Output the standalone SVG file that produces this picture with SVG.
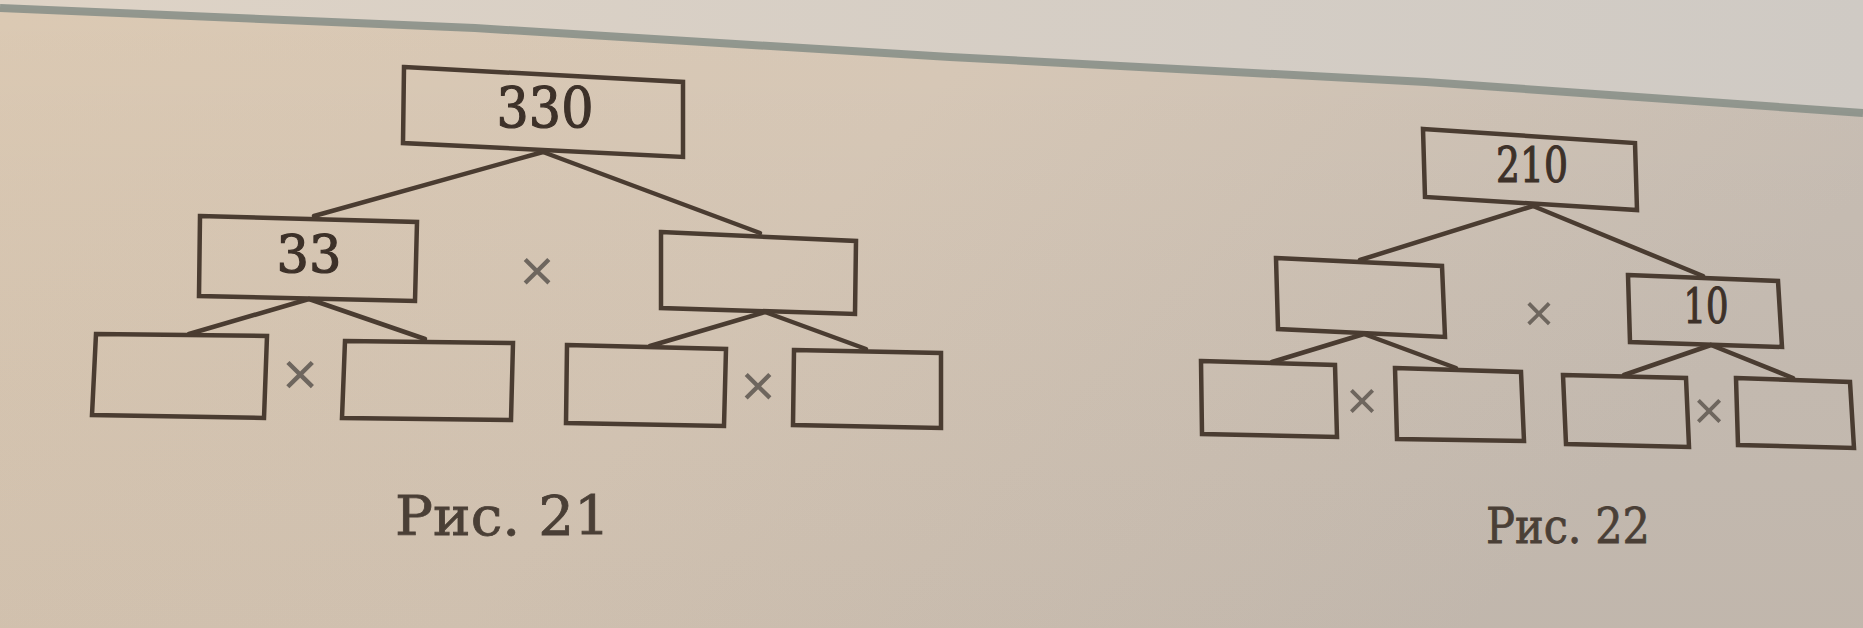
<svg xmlns="http://www.w3.org/2000/svg" width="1863" height="628" viewBox="0 0 1863 628">
<defs>
<linearGradient id="bg" x1="0" y1="0" x2="1" y2="0.3">
<stop offset="0" stop-color="#dbc9b3"/>
<stop offset="0.5" stop-color="#d7c8b7"/>
<stop offset="1" stop-color="#c8beb4"/>
</linearGradient>
<linearGradient id="top" x1="0" y1="0" x2="1" y2="0">
<stop offset="0" stop-color="#ded3c6"/>
<stop offset="1" stop-color="#cfcac4"/>
</linearGradient>
<linearGradient id="shade" x1="0" y1="0" x2="0" y2="1">
<stop offset="0" stop-color="#000" stop-opacity="0"/>
<stop offset="1" stop-color="#3a2a1a" stop-opacity="0.05"/>
</linearGradient>
<style>
.box{fill:none;stroke:#4a3c31;stroke-width:4.5;stroke-linejoin:miter}
.con line{stroke:#4a3c31;stroke-width:4.5;stroke-linecap:round}
.num{font-family:"DejaVu Serif","Liberation Serif",serif;fill:#3d3129;stroke:#3d3129;stroke-width:1.2;text-anchor:middle}
.mul{font-family:"Liberation Sans","DejaVu Sans",sans-serif;fill:#6e665e;text-anchor:middle}
.cap{font-family:"DejaVu Serif","Liberation Serif",serif;fill:#4a3f36;stroke:#4a3f36;stroke-width:0.8}
</style>
</defs>
<rect width="1863" height="628" fill="url(#bg)"/>
<rect width="1863" height="628" fill="url(#shade)"/>
<path d="M0 0 H1863 V113 L1426 82 L950 57 L475 28 L0 8 Z" fill="url(#top)"/>
<path d="M0 8 L475 28 L950 57 L1426 82 L1863 113" fill="none" stroke="#8a9088" stroke-width="8" opacity="0.9"/>

<g id="connectors" class="con">
<line x1="543" y1="152" x2="314" y2="216"/>
<line x1="543" y1="152" x2="760" y2="233"/>
<line x1="309" y1="299" x2="189" y2="334"/>
<line x1="309" y1="299" x2="425" y2="339"/>
<line x1="765" y1="312" x2="650" y2="346"/>
<line x1="765" y1="312" x2="866" y2="349"/>
<line x1="1533" y1="206" x2="1360" y2="260"/>
<line x1="1533" y1="206" x2="1703" y2="276"/>
<line x1="1364" y1="334" x2="1272" y2="362"/>
<line x1="1364" y1="334" x2="1456" y2="368"/>
<line x1="1711" y1="345" x2="1624" y2="375"/>
<line x1="1711" y1="345" x2="1793" y2="378"/>
</g>

<g id="fig21-root"><polygon class="box" points="404,67 683,82 683,157 403,143"/><text class="num" x="545" y="127" font-size="56" textLength="97" lengthAdjust="spacingAndGlyphs">330</text></g>
<g id="fig21-left"><polygon class="box" points="200,216 417,222 415,301 199,296"/><text class="num" x="309" y="272" font-size="52" textLength="65" lengthAdjust="spacingAndGlyphs">33</text></g>
<g id="fig21-right"><polygon class="box" points="661,232 856,241 855,314 661,308"/></g>
<g id="fig21-ll"><polygon class="box" points="96,334 267,336 264,418 92,415"/></g>
<g id="fig21-lr"><polygon class="box" points="345,341 513,343 511,420 342,418"/></g>
<g id="fig21-rl"><polygon class="box" points="567,345 726,349 724,426 566,423"/></g>
<g id="fig21-rr"><polygon class="box" points="794,350 941,353 941,428 793,425"/></g>
<g id="fig21-signs">
<text class="mul" x="537" y="291" font-size="60">×</text>
<text class="mul" x="300" y="395" font-size="62">×</text>
<text class="mul" x="758" y="406" font-size="60">×</text>
</g>
<text class="cap" x="395" y="535" font-size="55" textLength="215" lengthAdjust="spacingAndGlyphs">Рис. 21</text>

<g id="fig22-root"><polygon class="box" points="1423,129 1635,143 1637,210 1425,197"/><text class="num" x="1532" y="182" font-size="48" textLength="72" lengthAdjust="spacingAndGlyphs">210</text></g>
<g id="fig22-left"><polygon class="box" points="1276,258 1442,266 1445,337 1278,329"/></g>
<g id="fig22-right"><polygon class="box" points="1628,275 1778,281 1782,347 1630,342"/><text class="num" x="1706" y="323" font-size="48" textLength="45" lengthAdjust="spacingAndGlyphs">10</text></g>
<g id="fig22-ll"><polygon class="box" points="1201,361 1335,365 1337,437 1202,434"/></g>
<g id="fig22-lr"><polygon class="box" points="1395,368 1521,372 1524,441 1397,439"/></g>
<g id="fig22-rl"><polygon class="box" points="1563,375 1686,378 1689,447 1566,444"/></g>
<g id="fig22-rr"><polygon class="box" points="1736,378 1850,382 1854,448 1738,445"/></g>
<g id="fig22-signs">
<text class="mul" x="1539" y="331" font-size="52">×</text>
<text class="mul" x="1362" y="419" font-size="54">×</text>
<text class="mul" x="1709" y="429" font-size="54">×</text>
</g>
<text class="cap" x="1486" y="543" font-size="48" textLength="164" lengthAdjust="spacingAndGlyphs">Рис. 22</text>
</svg>
